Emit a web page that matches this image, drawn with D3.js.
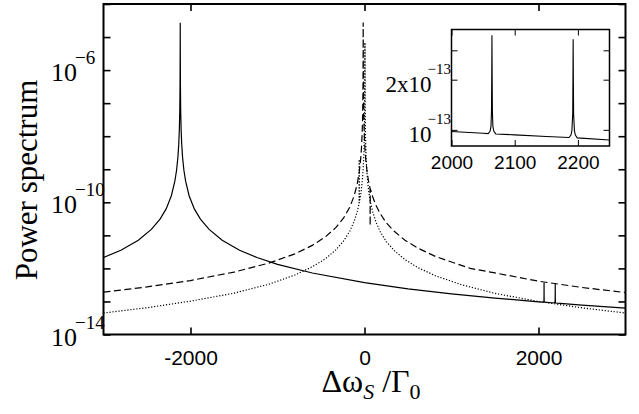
<!DOCTYPE html>
<html lang="en">
<head>
<meta charset="utf-8">
<title>Power spectrum</title>
<script src="https://cdn.jsdelivr.net/npm/d3@7/dist/d3.min.js"></script>
<style>
  body { margin: 0; background: #fff; }
  svg { display: block; }
  .axis text { font-family: "Liberation Sans", Arial, sans-serif; fill: #000; }
  .serif { font-family: "Liberation Serif", "Times New Roman", serif; fill: #000; }
</style>
</head>
<body>
<script>
// solid curve (peak near -2118, two tiny peaks near 2064 / 2192)
var solidX = [-3000, -2800, -2600, -2450, -2350, -2280, -2220, -2180, -2160, -2145, -2135, -2128, -2123, -2120, -2118.5, -2118,
  -2117.5, -2116, -2113, -2108, -2101, -2091, -2076, -2056, -2016, -1956, -1886, -1786, -1636, -1436, -1236, -1000, -600, 0,
  500, 1000, 1500, 2000, 2050, 2058, 2061, 2062.5, 2063.3, 2063.7, 2064, 2064.3, 2064.7, 2065.5, 2067, 2070, 2100, 2150,
  2186, 2189, 2190.5, 2191.8, 2192.2, 2192.5, 2192.8, 2193.2, 2194.5, 2196, 2199, 2250, 2500, 3000];
var solidY = [2.14e-12, 3.55e-12, 7.08e-12, 1.51e-11, 3.09e-11, 6.31e-11, 1.58e-10, 4.37e-10, 9.33e-10, 2.29e-9, 5.75e-9, 1.66e-8, 6.61e-8, 4.17e-7, 6.61e-6, 2.69e-5,
  6.61e-6, 4.17e-7, 6.61e-8, 1.66e-8, 5.75e-9, 2.29e-9, 9.33e-10, 4.37e-10, 1.58e-10, 6.31e-11, 3.09e-11, 1.51e-11, 7.08e-12, 3.55e-12, 2.14e-12, 1.32e-12, 7.24e-13, 3.72e-13,
  2.40e-13, 1.70e-13, 1.26e-13, 9.77e-14, 9.55e-14, 9.5e-14, 9.8e-14, 1.05e-13, 1.3e-13, 2.2e-13, 3.7e-13, 2.2e-13, 1.3e-13, 1.05e-13, 9.8e-14, 9.45e-14, 9.33e-14, 9.12e-14,
  9.0e-14, 9.3e-14, 9.9e-14, 1.25e-13, 2.1e-13, 3.5e-13, 2.1e-13, 1.25e-13, 9.9e-14, 9.3e-14, 8.95e-14, 8.7e-14, 7.76e-14, 6.31e-14];

// dashed curve (peak near -15, narrow dip near +65)
var dashX = [-3000, -2500, -2000, -1500, -1100, -800, -600, -450, -330, -240, -170, -120, -85, -60, -45, -35, -27, -21, -17, -15.5, -15,
  -14.5, -13, -9, -3, 5, 15, 30, 45, 60, 64, 65, 66, 70, 95, 130, 180, 250, 345, 465, 615, 815, 1215, 1500, 2000, 2500, 3000];
var dashY = [1.91e-13, 2.75e-13, 4.29e-13, 7.73e-13, 1.44e-12, 2.76e-12, 4.97e-12, 8.97e-12, 1.71e-11, 3.36e-11, 7.04e-11, 1.54e-10, 3.46e-10, 8.37e-10, 1.89e-9, 4.24e-9, 1.17e-8, 4.7e-8, 4.25e-7, 6.8e-6, 2.75e-5,
  6.8e-6, 4.25e-7, 4.7e-8, 1.17e-8, 4.24e-9, 1.89e-9, 8.37e-10, 4.6e-10, 2.9e-10, 2.7e-10, 1.95e-11, 2.6e-10, 2.4e-10, 1.45e-10, 8.3e-11, 4.6e-11, 2.4e-11, 1.3e-11, 7.1e-12, 4.1e-12, 2.3e-12, 1.0e-12, 7.3e-13, 4.1e-13, 2.65e-13, 1.85e-13];

// dotted curve (peak near +5)
var dotX = [-3000, -2500, -2000, -1500, -1100, -800, -600, -450, -330, -240, -170, -120, -85, -61.5, -61, -60.5, -40, -25, -15, -7, -1, 3, 4.5, 5,
  5.5, 7, 11, 17, 25, 35, 50, 70, 95, 130, 180, 250, 345, 465, 615, 815, 1115, 1500, 2000, 2500, 3000];
var dotY = [4.47e-14, 6.46e-14, 1.02e-13, 1.78e-13, 3.31e-13, 6.31e-13, 1.12e-12, 1.95e-12, 3.63e-12, 6.76e-12, 1.32e-11, 2.63e-11, 5.01e-11, 9.3e-11, 2.0e-9, 9.7e-11, 2.0e-10, 4.57e-10, 1.02e-9, 2.82e-9, 1.12e-8, 1.02e-7, 1.62e-6, 6.76e-6,
  1.62e-6, 1.02e-7, 1.12e-8, 2.82e-9, 1.02e-9, 4.57e-10, 2.0e-10, 9.6e-11, 5.1e-11, 2.6e-11, 1.3e-11, 6.5e-12, 3.4e-12, 1.85e-12, 1.05e-12, 6.0e-13, 3.2e-13, 1.75e-13, 1.0e-13, 6.4e-14, 4.47e-14];

var xTicks = [-2000, 0, 2000];
var yTicks = [1e-14, 1e-13, 1e-12, 1e-11, 1e-10, 1e-9, 1e-8, 1e-7, 1e-6, 1e-5, 1e-4];
var yLabelVals = [1e-6, 1e-10, 1e-14];
var yLabelExp = ["\u22126", "\u221210", "\u221214"];

var insetXTicks = [2000, 2100, 2200];
var insetYTicks = [1e-13, 2e-13, 3e-13];
var insetYLabelVals = [1e-13, 2e-13];
var insetYLabelPre = ["10", "2x10"];

var W = 639, H = 414;
var svg = d3.select("body").append("svg").attr("width", W).attr("height", H);

var mL = 103.5, mR = 625.5, mT = 4, mB = 334.5;
var x = d3.scaleLinear().domain([-3000, 3000]).range([mL, mR]);
var y = d3.scaleLog().domain([1e-14, 1e-4]).range([mB, mT]);
var fmt = function (d) { return String(d); };

svg.append("clipPath").attr("id", "clipMain")
  .append("rect").attr("x", mL).attr("y", mT).attr("width", mR - mL).attr("height", mB - mT);

function series(xs, ys) { return xs.map(function (v, i) { return [v, ys[i]]; }); }

var line = d3.line().x(function (d) { return x(d[0]); }).y(function (d) { return y(d[1]); });

var curves = svg.append("g").attr("clip-path", "url(#clipMain)");
curves.append("path").datum(series(dotX, dotY)).attr("d", line)
  .attr("fill", "none").attr("stroke", "#000").attr("stroke-width", 1.2).attr("stroke-dasharray", "1.2,1.8");
curves.append("path").datum(series(dashX, dashY)).attr("d", line)
  .attr("fill", "none").attr("stroke", "#000").attr("stroke-width", 1.2).attr("stroke-dasharray", "7,3.5");
curves.append("path").datum(series(solidX, solidY)).attr("d", line)
  .attr("fill", "none").attr("stroke", "#000").attr("stroke-width", 1.2);

// axes (ticks point inward)
var tk = 7;
svg.append("g").attr("class", "axis").attr("transform", "translate(0," + mB + ")")
  .call(d3.axisBottom(x).tickValues(xTicks).tickFormat(fmt).tickSizeInner(-tk).tickSizeOuter(0).tickPadding(16))
  .call(function (g) { g.select(".domain").remove(); })
  .selectAll("text").attr("font-size", 21);
svg.append("g").attr("transform", "translate(0," + mT + ")")
  .call(d3.axisTop(x).tickValues(xTicks).tickSizeInner(-tk).tickSizeOuter(0).tickFormat(""))
  .call(function (g) { g.select(".domain").remove(); });
svg.append("g").attr("transform", "translate(" + mL + ",0)")
  .call(d3.axisLeft(y).tickValues(yTicks).tickSizeInner(-tk).tickSizeOuter(0).tickFormat(""))
  .call(function (g) { g.select(".domain").remove(); });
svg.append("g").attr("transform", "translate(" + mR + ",0)")
  .call(d3.axisRight(y).tickValues(yTicks).tickSizeInner(-tk).tickSizeOuter(0).tickFormat(""))
  .call(function (g) { g.select(".domain").remove(); });
svg.selectAll(".tick line").attr("stroke-width", 1.6);

svg.append("rect").attr("x", mL).attr("y", mT).attr("width", mR - mL).attr("height", mB - mT)
  .attr("fill", "none").attr("stroke", "#000").attr("stroke-width", 2);

// y labels 10^n
yLabelVals.forEach(function (v, i) {
  var t = svg.append("text").attr("class", "serif").attr("x", 51).attr("y", y(v) + 11).attr("font-size", 26);
  t.append("tspan").text("10");
  t.append("tspan").attr("dx", -2).attr("dy", -17).attr("font-size", 19).text(yLabelExp[i]);
});

svg.append("text").attr("class", "serif")
  .attr("transform", "translate(37,180) rotate(-90)")
  .attr("text-anchor", "middle").attr("font-size", 31).text("Power spectrum");

var xl = svg.append("text").attr("class", "serif").attr("x", 371).attr("y", 392)
  .attr("text-anchor", "middle").attr("font-size", 32);
xl.append("tspan").text("\u0394\u03c9");
xl.append("tspan").attr("font-size", 22).attr("font-style", "italic").attr("dy", 7).text("S");
xl.append("tspan").attr("dy", -7).text(" /\u0393");
xl.append("tspan").attr("font-size", 22).attr("dy", 7).text("0");

// inset
var il = 451.5, ir = 609.5, it = 29.5, ib = 146;
var ix = d3.scaleLinear().domain([2000, 2250]).range([il, ir]);
var iy = d3.scaleLog().domain([8e-14, 4e-13]).range([ib, it]);

svg.append("rect").attr("x", il).attr("y", it).attr("width", ir - il).attr("height", ib - it).attr("fill", "#fff");
svg.append("clipPath").attr("id", "clipInset")
  .append("rect").attr("x", il).attr("y", it).attr("width", ir - il).attr("height", ib - it);

var iline = d3.line().x(function (d) { return ix(d[0]); }).y(function (d) { return iy(d[1]); });
svg.append("g").attr("clip-path", "url(#clipInset)")
  .append("path").datum(series(solidX, solidY)).attr("d", iline)
  .attr("fill", "none").attr("stroke", "#000").attr("stroke-width", 1.1);

var itk = 6;
svg.append("g").attr("class", "axis").attr("transform", "translate(0," + ib + ")")
  .call(d3.axisBottom(ix).tickValues(insetXTicks).tickFormat(fmt).tickSizeInner(-itk).tickSizeOuter(0).tickPadding(10))
  .call(function (g) { g.select(".domain").remove(); })
  .selectAll("text").attr("font-size", 19);
svg.append("g").attr("transform", "translate(0," + it + ")")
  .call(d3.axisTop(ix).tickValues(insetXTicks).tickSizeInner(-itk).tickSizeOuter(0).tickFormat(""))
  .call(function (g) { g.select(".domain").remove(); });
svg.append("g").attr("transform", "translate(" + il + ",0)")
  .call(d3.axisLeft(iy).tickValues(insetYTicks).tickSizeInner(-itk).tickSizeOuter(0).tickFormat(""))
  .call(function (g) { g.select(".domain").remove(); });
svg.append("g").attr("transform", "translate(" + ir + ",0)")
  .call(d3.axisRight(iy).tickValues(insetYTicks).tickSizeInner(-itk).tickSizeOuter(0).tickFormat(""))
  .call(function (g) { g.select(".domain").remove(); });

svg.append("rect").attr("x", il).attr("y", it).attr("width", ir - il).attr("height", ib - it)
  .attr("fill", "none").attr("stroke", "#000").attr("stroke-width", 1.5);

insetYLabelVals.forEach(function (v, i) {
  var t = svg.append("text").attr("class", "serif").attr("x", 451).attr("y", iy(v) + 12)
    .attr("text-anchor", "end").attr("font-size", 23);
  t.append("tspan").text(insetYLabelPre[i]);
  t.append("tspan").attr("dx", -4).attr("dy", -18).attr("font-size", 15).text("\u221213");
});
</script>
</body>
</html>
